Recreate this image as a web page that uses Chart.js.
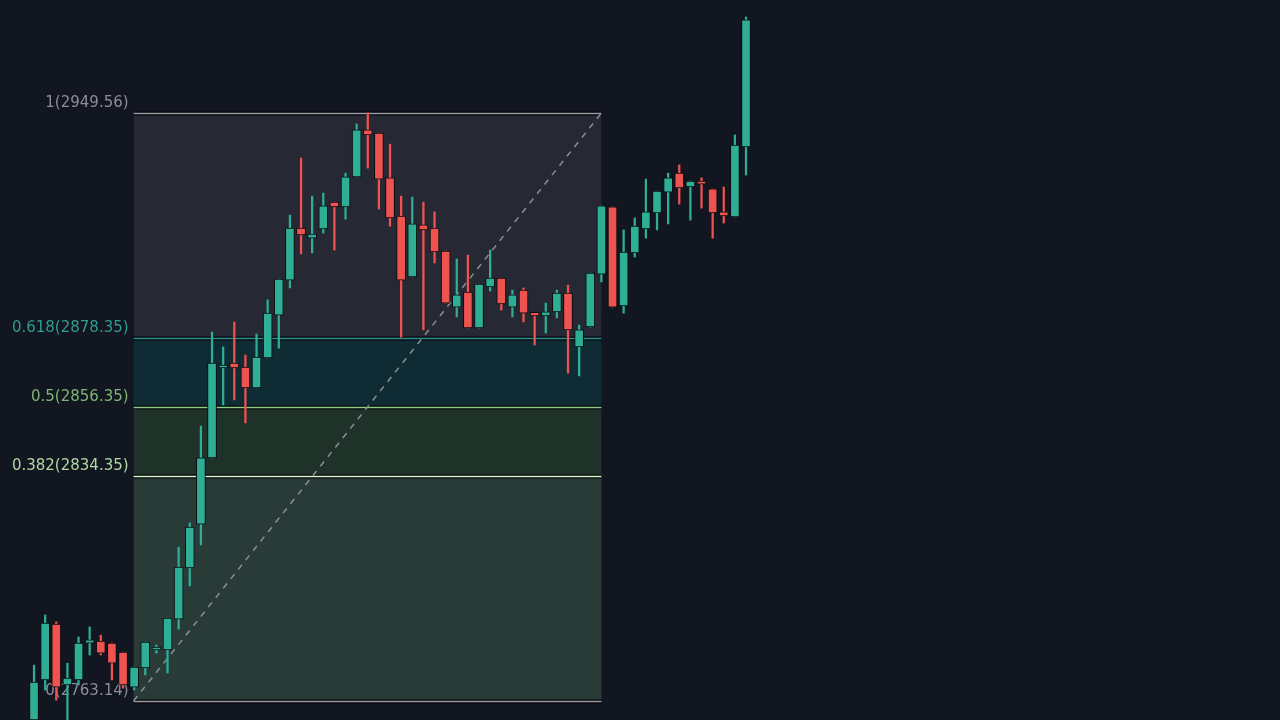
<!DOCTYPE html>
<html lang="en">
<head>
  <meta charset="UTF-8" />
  <title>Fib Retracement</title>
  <script src="https://cdn.jsdelivr.net/npm/chart.js"></script>
  <style>
    html, body { margin: 0; padding: 0; background: #121620; }
    #wrap { width: 1280px; height: 720px; }
  </style>
</head>
<body>
  <div id="wrap"><canvas id="fibChart"></canvas></div>
  <script>
    // candle data (oldest first)
    const opens  = [2757.1,2769.8,2787.5,2768.2,2769.8,2781.5,2782.1,2781.5,2778.6,2767.5,2773.6,2779.6,2779.3,2789.1,2805.3,2819.2,2840.2,2869.0,2870.3,2869.0,2862.4,2871.9,2885.5,2896.6,2913.1,2909.9,2912.8,2921.3,2919.8,2929.3,2944.2,2943.2,2929.0,2916.9,2897.6,2914.1,2913.1,2905.8,2888.0,2892.8,2881.4,2894.4,2897.2,2888.0,2893.4,2886.1,2885.2,2886.5,2892.5,2875.4,2881.7,2898.5,2919.8,2888.4,2905.2,2912.8,2917.9,2924.5,2930.5,2926.1,2928.0,2925.5,2918.2,2916.6,2938.8];
    const closes = [2769.1,2787.8,2767.5,2770.4,2781.5,2782.5,2778.3,2775.1,2768.2,2773.9,2781.8,2779.9,2789.4,2805.6,2818.3,2840.2,2870.3,2869.3,2868.7,2862.4,2872.2,2886.1,2896.9,2913.1,2910.9,2911.2,2920.1,2919.8,2929.3,2944.2,2942.6,2928.6,2916.3,2896.6,2914.4,2912.5,2905.5,2889.3,2891.9,2881.4,2895.3,2897.2,2889.0,2891.9,2886.1,2885.5,2886.5,2892.5,2880.8,2880.8,2898.8,2920.1,2888.0,2905.5,2913.7,2918.2,2924.8,2929.0,2925.8,2928.0,2927.0,2917.9,2916.9,2939.4,2979.1];
    const highs  = [2774.5,2790.4,2788.2,2775.1,2783.4,2786.6,2784.0,2781.5,2778.6,2773.9,2781.8,2780.9,2789.4,2811.9,2819.6,2850.3,2880.1,2875.4,2883.3,2872.8,2879.5,2890.3,2896.9,2917.2,2935.3,2923.2,2924.2,2921.3,2930.5,2946.1,2949.6,2943.2,2939.7,2923.2,2922.9,2921.3,2918.2,2905.8,2903.3,2904.5,2895.3,2906.1,2897.2,2893.4,2894.1,2886.1,2889.3,2893.4,2895.0,2882.3,2898.8,2920.1,2919.8,2912.5,2916.3,2928.6,2924.8,2930.5,2933.1,2928.0,2929.0,2925.5,2926.1,2942.6,2980.0];
    const lows   = [2755.5,2766.6,2763.4,2757.1,2768.2,2777.7,2777.7,2769.8,2767.2,2766.6,2771.4,2778.3,2772.0,2785.9,2799.6,2812.6,2840.2,2857.0,2858.6,2851.3,2862.4,2871.9,2875.0,2894.1,2904.9,2905.2,2911.5,2906.1,2915.9,2929.3,2932.1,2919.1,2913.7,2878.5,2897.6,2880.8,2902.0,2889.3,2884.9,2881.4,2881.4,2893.1,2887.1,2884.9,2883.3,2876.0,2879.8,2884.6,2867.1,2866.2,2881.7,2896.0,2888.0,2886.1,2903.9,2909.9,2912.5,2914.4,2920.7,2915.6,2919.4,2909.9,2914.7,2916.6,2929.9];

    // fib retracement
    const fibLow = 2763.14, fibHigh = 2949.56;
    const fibRatios = [1, 0.618, 0.5, 0.382, 0];
    const fibPrices = [2949.56, 2878.35, 2856.35, 2834.35, 2763.14];
    const fibStartIdx = 9, fibEndIdx = 51;

    const up = '#2fae96', down = '#ef5350';
    const bodies = [], wicks = [], colors = [];
    opens.forEach((o, i) => {
      const c = closes[i];
      let lo = Math.min(o, c), hi = Math.max(o, c);
      if (hi - lo < 0.6) { hi += 0.3; lo -= 0.3; }
      bodies.push({ x: i, y: [lo, hi] });
      wicks.push({ x: i, y: [lows[i], highs[i]] });
      colors.push(c >= o ? up : down);
    });

    const fibPlugin = {
      id: 'fib',
      beforeDatasetsDraw(chart) {
        const { ctx, scales: { x, y } } = chart;
        const x0 = x.getPixelForValue(fibStartIdx - 0.05);
        const x1 = x.getPixelForValue(fibEndIdx);
        const fills = ['#262834', '#0f2b33', '#1f3229', '#293b36'];
        const lines = ['#9a9ca4', '#2a8f8a', '#8dcc83', '#d8f0c8', '#9a9ca4'];
        const textCol = ['#8b8e97', '#2e9c8f', '#7fb573', '#b0d8a4', '#8b8e97'];
        ctx.save();
        for (let k = 0; k < 4; k++) {
          const ya = y.getPixelForValue(fibPrices[k]);
          const yb = y.getPixelForValue(fibPrices[k + 1]);
          ctx.fillStyle = fills[k];
          ctx.fillRect(x0, ya, x1 - x0, yb - ya);
        }
        ctx.font = '15px "DejaVu Sans", sans-serif';
        ctx.textAlign = 'right';
        ctx.textBaseline = 'middle';
        fibPrices.forEach((p, k) => {
          const yy = Math.round(y.getPixelForValue(p)) + 0.5;
          ctx.strokeStyle = '#05070b';
          ctx.lineWidth = 4;
          ctx.beginPath(); ctx.moveTo(x0, yy); ctx.lineTo(x1, yy); ctx.stroke();
          ctx.strokeStyle = lines[k];
          ctx.lineWidth = 1.5;
          ctx.beginPath(); ctx.moveTo(x0, yy); ctx.lineTo(x1, yy); ctx.stroke();
          ctx.fillStyle = textCol[k];
          ctx.fillText(fibRatios[k] + '(' + p.toFixed(2) + ')', x0 - 5, yy - 10);
        });
        ctx.strokeStyle = '#8b8e97';
        ctx.lineWidth = 1.5;
        ctx.setLineDash([6, 6]);
        ctx.beginPath();
        ctx.moveTo(x0, y.getPixelForValue(fibLow));
        ctx.lineTo(x1, y.getPixelForValue(fibHigh));
        ctx.stroke();
        ctx.restore();
      }
    };

    new Chart(document.getElementById('fibChart'), {
      type: 'bar',
      data: {
        datasets: [
          { data: wicks, backgroundColor: colors, barThickness: 1.6, grouped: false, order: 2 },
          { data: bodies, backgroundColor: colors, borderColor: '#0a0c10', borderWidth: 1, borderSkipped: false, barThickness: 9, grouped: false, order: 1 }
        ]
      },
      options: {
        responsive: true,
        maintainAspectRatio: false,
        animation: false,
        layout: { padding: 0 },
        plugins: { legend: { display: false }, tooltip: { enabled: false } },
        scales: {
          x: { type: 'linear', min: -3.06, max: 112, offset: false, bounds: 'ticks', display: false },
          y: { min: 2757.1, max: 2985.4, display: false }
        }
      },
      plugins: [fibPlugin]
    });
  </script>
</body>
</html>
